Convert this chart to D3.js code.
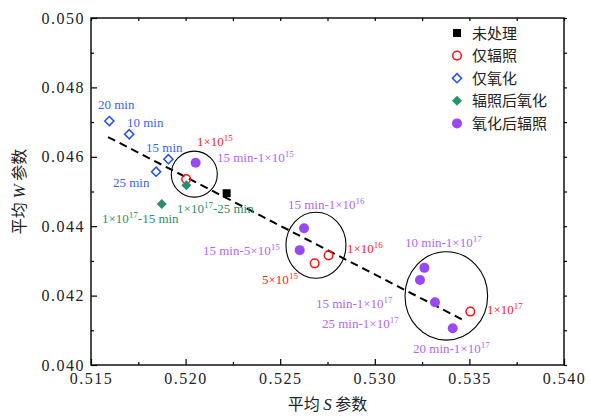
<!DOCTYPE html>
<html><head><meta charset="utf-8">
<script src="https://cdn.jsdelivr.net/npm/d3@7"></script>
<style>
body{margin:0;background:#fff;}
svg{display:block;}
</style></head>
<body><svg id="c" width="590" height="416"></svg>
<script>
// ---- data ----
const xTicks = [0.515, 0.520, 0.525, 0.530, 0.535, 0.540];
const yTicks = [0.040, 0.042, 0.044, 0.046, 0.048, 0.050];
const seriesNames = ["未处理", "仅辐照", "仅氧化", "辐照后氧化", "氧化后辐照"];
const untreated = [[0.52217, 0.04495]];
const irradOnly = [[0.52003, 0.04536], [0.52682, 0.04293], [0.52756, 0.04316], [0.53505, 0.04154]];
const oxidOnly = [[0.51597, 0.04703], [0.51702, 0.04665], [0.51909, 0.04593], [0.51844, 0.04557]];
const irradThenOxid = [[0.52004, 0.04518], [0.51874, 0.04464]];
const oxidThenIrrad = [[0.52053, 0.04583], [0.52626, 0.04394], [0.52603, 0.04331], [0.53262, 0.04280], [0.53239, 0.04245], [0.53318, 0.04181], [0.53412, 0.04106]];
const trendLine = [[0.51590, 0.04657], [0.53466, 0.04130]];
// ellipses: centre x, centre y, radius x, radius y (data units)
const groups = [[0.52046, 0.04550, 0.001216, 0.000663], [0.52689, 0.04345, 0.001586, 0.000951], [0.53378, 0.04199, 0.002183, 0.001274]];
// annotations: text, x, y (data units), series index for colour
const labels = [
  ["20 min", 0.51537, 0.04739, 2], ["10 min", 0.51690, 0.04687, 2], ["15 min", 0.51791, 0.04615, 2], ["25 min", 0.51616, 0.04512, 2],
  ["1×10^15", 0.52060, 0.04630, 1], ["15 min-1×10^15", 0.52166, 0.04586, 4],
  ["1×10^17-25 min", 0.51955, 0.04439, 3], ["1×10^17-15 min", 0.51558, 0.04408, 3],
  ["15 min-1×10^16", 0.52541, 0.04451, 4], ["15 min-5×10^15", 0.52092, 0.04318, 4],
  ["1×10^16", 0.52853, 0.04324, 1], ["5×10^15", 0.52404, 0.04232, 1],
  ["10 min-1×10^17", 0.53160, 0.04339, 4], ["1×10^17", 0.53593, 0.04148, 1],
  ["15 min-1×10^17", 0.52689, 0.04163, 4], ["25 min-1×10^17", 0.52721, 0.04108, 4],
  ["20 min-1×10^17", 0.53202, 0.04036, 4]
];
const markColors = ["#000000", "#ff1010", "#1f4fff", "#2a8f6f", "#9a48f5"];
const textColors = ["#000000", "#ff2020", "#3a5fff", "#2a8f6f", "#b066ff"];

// ---- chart ----
const svg = d3.select("#c");
const L = 91, R = 564, T = 18, B = 365;
const x = d3.scaleLinear().domain([0.515, 0.540]).range([L, R]);
const y = d3.scaleLinear().domain([0.040, 0.050]).range([B, T]);
const tickFont = "'Liberation Serif', serif";

// ellipses
svg.append("g").selectAll("ellipse").data(groups).join("ellipse")
  .attr("cx", d => x(d[0])).attr("cy", d => y(d[1]))
  .attr("rx", d => x(d[0] + d[2]) - x(d[0])).attr("ry", d => y(d[1]) - y(d[1] + d[3]))
  .attr("fill", "none").attr("stroke", "#000").attr("stroke-width", 1.1);

// trend line
svg.append("path").datum(trendLine)
  .attr("d", d3.line().x(d => x(d[0])).y(d => y(d[1])))
  .attr("fill", "none").attr("stroke", "#000").attr("stroke-width", 2)
  .attr("stroke-dasharray", "8,5");

// axes
function styleAxis(g) {
  g.select(".domain").remove();
  g.selectAll("line").attr("stroke", "#000").attr("stroke-width", 1.2);
  g.selectAll("text").attr("font-family", tickFont).attr("font-size", 16).attr("fill", "#222").attr("letter-spacing", "1.5px");
}
const xMinor = d3.range(0.5175, 0.540, 0.005);
const yMinor = d3.range(0.041, 0.050, 0.002);
svg.append("g").attr("transform", `translate(0,${B})`)
  .call(d3.axisBottom(x).tickValues(xTicks).tickFormat(d3.format(".3f")).tickSize(-6).tickPadding(8)).call(styleAxis);
svg.append("g").attr("transform", `translate(0,${B})`)
  .call(d3.axisBottom(x).tickValues(xMinor).tickFormat("").tickSize(-3)).call(styleAxis);
svg.append("g").attr("transform", `translate(${L},0)`)
  .call(d3.axisLeft(y).tickValues(yTicks).tickFormat(d3.format(".3f")).tickSize(-6).tickPadding(6)).call(styleAxis);
svg.append("g").attr("transform", `translate(${L},0)`)
  .call(d3.axisLeft(y).tickValues(yMinor).tickFormat("").tickSize(-3)).call(styleAxis);
svg.append("g").attr("transform", `translate(0,${T})`)
  .call(d3.axisTop(x).tickValues(xTicks.concat(xMinor)).tickFormat("").tickSize(-3)).call(styleAxis);
svg.append("g").attr("transform", `translate(${R},0)`)
  .call(d3.axisRight(y).tickValues(yTicks.concat(yMinor)).tickFormat("").tickSize(3)).call(styleAxis);
svg.append("rect").attr("x", L).attr("y", T).attr("width", R - L).attr("height", B - T)
  .attr("fill", "none").attr("stroke", "#000").attr("stroke-width", 1.4);

// axis titles
const cjk = "'Noto Sans CJK SC', sans-serif";
const xt = svg.append("text").attr("x", (L + R) / 2).attr("y", 410).attr("text-anchor", "middle")
  .attr("font-family", cjk).attr("font-size", 16).attr("fill", "#222");
xt.append("tspan").text("平均 ");
xt.append("tspan").attr("font-family", tickFont).attr("font-style", "italic").attr("font-size", 17).text("S");
xt.append("tspan").text(" 参数");
const yt = svg.append("text").attr("transform", `translate(25,${(T + B) / 2}) rotate(-90)`).attr("text-anchor", "middle")
  .attr("font-family", cjk).attr("font-size", 16).attr("fill", "#222");
yt.append("tspan").text("平均 ");
yt.append("tspan").attr("font-family", tickFont).attr("font-style", "italic").attr("font-size", 17).text("W");
yt.append("tspan").text(" 参数");

// symbols
function drawSym(g, i) {
  if (i === 0) g.append("path").attr("d", d3.symbol(d3.symbolSquare, 64)()).attr("fill", markColors[0]);
  if (i === 1) g.append("circle").attr("r", 4.3).attr("fill", "none").attr("stroke", markColors[1]).attr("stroke-width", 1.5);
  if (i === 2) g.append("path").attr("d", d3.symbol(d3.symbolSquare, 42)()).attr("transform", "rotate(45)")
      .attr("fill", "none").attr("stroke", markColors[2]).attr("stroke-width", 1.5);
  if (i === 3) g.append("path").attr("d", d3.symbol(d3.symbolSquare, 50)()).attr("transform", "rotate(45)").attr("fill", markColors[3]);
  if (i === 4) g.append("circle").attr("r", 5).attr("fill", markColors[4]);
}
const allSeries = [untreated, irradOnly, oxidOnly, irradThenOxid, oxidThenIrrad];
allSeries.forEach((s, i) => {
  svg.append("g").selectAll("g").data(s).join("g")
    .attr("transform", d => `translate(${x(d[0])},${y(d[1])})`)
    .each(function () { drawSym(d3.select(this), i); });
});

// labels
const lab = svg.append("g").attr("font-family", tickFont).attr("font-size", 13);
labels.forEach(([t, lx, ly, c]) => {
  const te = lab.append("text").attr("x", x(lx)).attr("y", y(ly)).attr("fill", textColors[c]);
  const parts = t.split(/\^(\d+)/);
  parts.forEach((p, k) => {
    if (!p) return;
    if (k % 2 === 1) te.append("tspan").attr("font-size", 9).attr("dy", -5).text(p);
    else te.append("tspan").attr("dy", k === 0 ? 0 : 5).text(p);
  });
});

// legend
const lg = svg.append("g");
seriesNames.forEach((n, i) => {
  const row = lg.append("g").attr("transform", `translate(457,${33 + i * 22.6})`);
  drawSym(row.append("g"), i);
  row.append("text").attr("x", 15).attr("y", 5.5).attr("font-family", cjk).attr("font-size", 15).attr("fill", "#222").text(n);
});
</script></body></html>
